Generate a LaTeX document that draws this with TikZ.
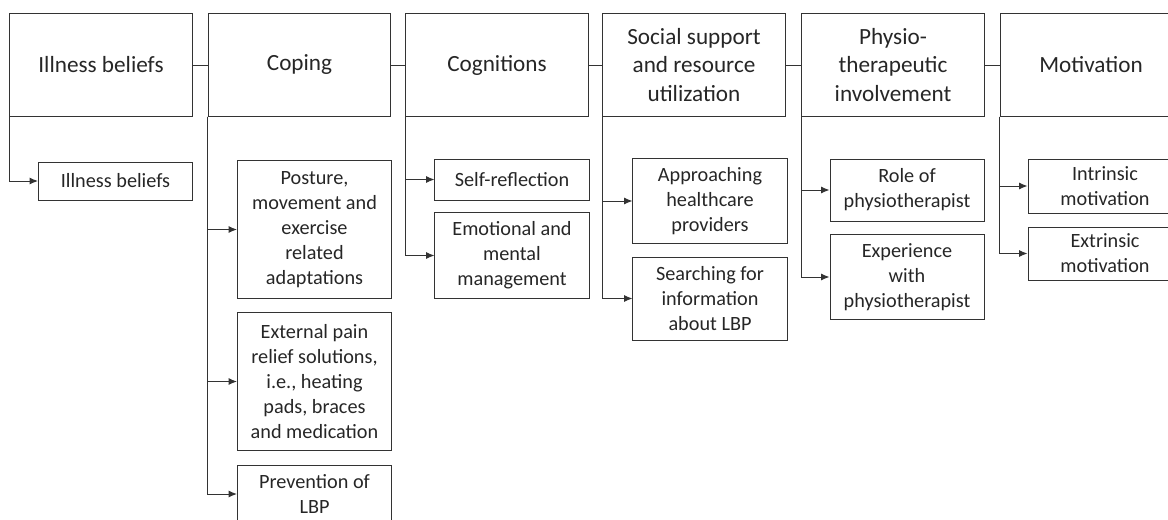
\documentclass[tikz,border=0pt]{standalone}
\usepackage{fontspec}
\setmainfont{Carlito}
\usetikzlibrary{arrows.meta}

\begin{document}
\begin{tikzpicture}[
    x=0.025cm, y=-0.025cm,
    topbox/.style={
        draw=black!80,
        line width=0.7pt,
        text=black!85,
        align=center,
        inner sep=0pt,
        minimum width=4.55cm,
        minimum height=2.55cm,
        font=\fontsize{16.5}{20}\selectfont
    },
    subbox/.style={
        draw=black!80,
        line width=0.7pt,
        text=black!85,
        align=center,
        inner sep=0pt,
        minimum width=3.85cm,
        font=\fontsize{14.4}{17.8}\selectfont
    },
    link/.style={draw=black!80, line width=0.7pt},
    branch/.style={link, -{Latex[length=6pt,width=5pt]}}
]

\clip (0,0) rectangle (1168,519);

% ------------------------------------------------
% Themes (top row)
% ------------------------------------------------
\node[topbox] (illness)    at (101,65)  {Illness beliefs};
\node[topbox] (coping)     at (299.5,65) {Coping};
\node[topbox] (cognitions) at (497,65)  {Cognitions};
\node[topbox] (social)     at (694,65)  {Social support\\and resource\\utilization};
\node[topbox] (physio)     at (893,65)  {Physio-\\therapeutic\\involvement};
\node[topbox] (motivation) at (1091,65) {Motivation};

\draw[link] (illness.east)    -- (coping.west);
\draw[link] (coping.east)     -- (cognitions.west);
\draw[link] (cognitions.east) -- (social.west);
\draw[link] (social.east)     -- (physio.west);
\draw[link] (physio.east)     -- (motivation.west);

% ------------------------------------------------
% Sub-themes
% ------------------------------------------------
\node[subbox, minimum height=0.95cm]  (ill1) at (115.5,181) {Illness beliefs};

\node[subbox, minimum height=3.425cm] (cop1) at (314.5,229.5) {Posture,\\movement and\\exercise\\related\\adaptations};
\node[subbox, minimum height=3.425cm] (cop2) at (314.5,381.5) {External pain\\relief solutions,\\i.e., heating\\pads, braces\\and medication};
\node[subbox, minimum height=1.45cm]  (cop3) at (314.5,494)   {Prevention of\\LBP};

\node[subbox, minimum height=1.025cm] (cog1) at (512,179.5) {Self-reflection};
\node[subbox, minimum height=2.125cm] (cog2) at (512,255.5) {Emotional and\\mental\\management};

\node[subbox, minimum height=2.1cm]   (soc1) at (710,201)   {Approaching\\healthcare\\providers};
\node[subbox, minimum height=2.075cm] (soc2) at (710,298.5) {Searching for\\information\\about LBP};

\node[subbox, minimum height=1.55cm]  (phy1) at (907,190) {Role of\\physiotherapist};
\node[subbox, minimum height=2.1cm]   (phy2) at (907,277) {Experience\\with\\physiotherapist};

\node[subbox, minimum height=1.35cm]  (mot1) at (1105,186)   {Intrinsic\\motivation};
\node[subbox, minimum height=1.325cm] (mot2) at (1105,253.5) {Extrinsic\\motivation};

% ------------------------------------------------
% Branches
% ------------------------------------------------
\foreach \T/\S in {illness/ill1,coping/cop1,coping/cop2,coping/cop3,
                   cognitions/cog1,cognitions/cog2,social/soc1,social/soc2,
                   physio/phy1,physio/phy2,motivation/mot1,motivation/mot2}
    \draw[branch] (\T.south west) |- (\S.west);

\end{tikzpicture}
\end{document}
